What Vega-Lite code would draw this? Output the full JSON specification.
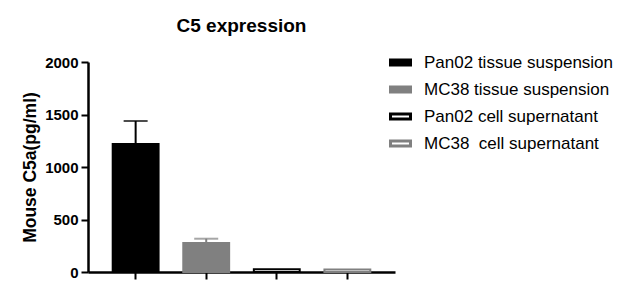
{
  "$schema": "https://vega.github.io/schema/vega-lite/v6.json",
  "autosize": "none",
  "width": 307,
  "height": 210,
  "padding": {"left": 88, "top": 62, "right": 234, "bottom": 25},
  "background": "white",
  "title": {"text": "C5 expression", "font": "Liberation Sans", "fontSize": 19, "fontWeight": "bold", "color": "black", "anchor": "middle", "offset": 15},
  "config": {
    "view": {"stroke": null},
    "axis": {"labelFont": "Liberation Sans", "titleFont": "Liberation Sans", "labelColor": "black", "titleColor": "black", "domainColor": "black", "tickColor": "black", "grid": false},
    "legend": {"padding": 0}
  },
  "data": {"values": [
    {"group": "Pan02 tissue suspension", "value": 1219, "upper": 1438},
    {"group": "MC38 tissue suspension", "value": 276, "upper": 317},
    {"group": "Pan02 cell supernatant", "value": 26, "upper": 26},
    {"group": "MC38\u00a0 cell supernatant", "value": 25, "upper": 25}
  ]},
  "encoding": {
    "x": {"field": "group", "type": "nominal", "sort": null,
      "scale": {"paddingInner": 0.35, "paddingOuter": 0.35},
      "axis": {"labels": false, "title": null, "domainWidth": 2.5, "tickWidth": 2, "tickSize": 7}}
  },
  "layer": [
    {
      "mark": {"type": "bar", "strokeWidth": 2},
      "encoding": {
        "y": {"field": "value", "type": "quantitative",
          "scale": {"domain": [0, 2000], "nice": false},
          "axis": {"values": [0, 500, 1000, 1500, 2000], "format": "d", "title": "Mouse C5a(pg/ml)", "titleFontSize": 17.5, "titleFontWeight": "bold", "titlePadding": 5, "labelFontSize": 15, "labelFontWeight": "bold", "labelPadding": 3, "domainWidth": 2.5, "tickWidth": 2, "tickSize": 7}},
        "fill": {"field": "group", "type": "nominal",
          "scale": {"domain": ["Pan02 tissue suspension", "MC38 tissue suspension", "Pan02 cell supernatant", "MC38\u00a0 cell supernatant"], "range": ["#000000", "#808080", "#ffffff", "#ffffff"]},
          "legend": {"title": null, "orient": "none", "legendX": 301, "legendY": -11, "symbolType": "M-1,-0.25H1V0.25H-1Z", "symbolSize": 400, "symbolStrokeWidth": 3, "symbolOpacity": 1, "labelFont": "Liberation Sans", "labelFontSize": 17, "labelColor": "black", "labelOffset": 12, "rowPadding": 7, "labelLimit": 300,
            "encode": {"symbols": {"update": {"opacity": {"value": 1}, "fillOpacity": {"value": 1}, "strokeOpacity": {"value": 1}}}}}},
        "stroke": {"field": "group", "type": "nominal",
          "scale": {"domain": ["Pan02 tissue suspension", "MC38 tissue suspension", "Pan02 cell supernatant", "MC38\u00a0 cell supernatant"], "range": ["#000000", "#808080", "#000000", "#808080"]},
          "legend": {"title": null, "orient": "none", "legendX": 301, "legendY": -11, "symbolType": "M-1,-0.25H1V0.25H-1Z", "symbolSize": 400, "symbolStrokeWidth": 3, "symbolOpacity": 1, "labelFont": "Liberation Sans", "labelFontSize": 17, "labelColor": "black", "labelOffset": 12, "rowPadding": 7, "labelLimit": 300,
            "encode": {"symbols": {"update": {"opacity": {"value": 1}, "fillOpacity": {"value": 1}, "strokeOpacity": {"value": 1}}}}}}
      }
    },
    {
      "mark": {"type": "rule", "strokeWidth": 2},
      "encoding": {
        "y": {"field": "value", "type": "quantitative"},
        "y2": {"field": "upper"},
        "stroke": {"field": "group", "type": "nominal"}
      }
    },
    {
      "mark": {"type": "tick", "size": 24, "thickness": 2, "filled": true},
      "transform": [{"filter": "datum.upper > datum.value"}],
      "encoding": {
        "y": {"field": "upper", "type": "quantitative"},
        "fill": {"field": "group", "type": "nominal", "scale": {"domain": ["Pan02 tissue suspension", "MC38 tissue suspension", "Pan02 cell supernatant", "MC38\u00a0 cell supernatant"], "range": ["#000000", "#808080", "#ffffff", "#ffffff"]}}
      }
    }
  ]
}
